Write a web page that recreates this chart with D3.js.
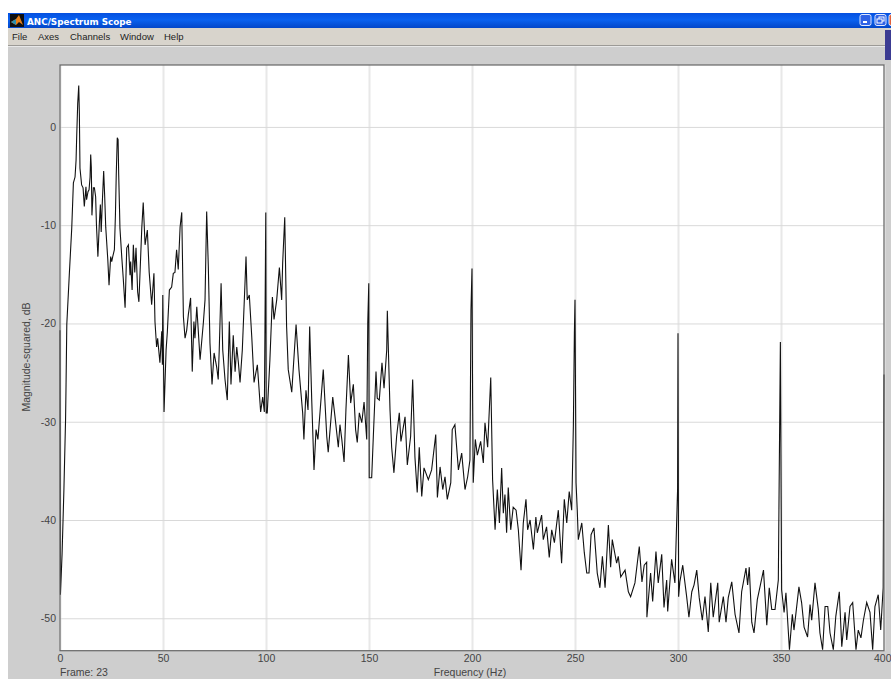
<!DOCTYPE html>
<html>
<head>
<meta charset="utf-8">
<title>ANC/Spectrum Scope</title>
<script src="https://d3js.org/d3.v7.min.js"></script>
<style>
  html, body { margin: 0; padding: 0; background: #fff; overflow: hidden; }
  svg { display: block; font-family: "Liberation Sans", Arial, sans-serif; }
</style>
</head>
<body>
<svg width="891" height="679"></svg>
<script>
// Tick labels
const freqTicks = [0, 50, 100, 150, 200, 250, 300, 350, 400];
const dbTicks = [0, -10, -20, -30, -40, -50];
const menuItems = ["File", "Axes", "Channels", "Window", "Help"];
const menuX = [12, 38, 70, 120, 164];

// Spectrum trace, frame 23
const freqHz = [
  0, 0.2, 1, 1.9, 2.7, 2.9, 3.3, 4.5, 5.7, 6.5, 7.3, 7.8, 8.1, 8.6, 9.1, 9.4, 9.7, 10.5, 11.2, 11.8,
  12.6, 12.9, 13.6, 14.1, 14.6, 14.9, 15.2, 15.5, 16.2, 16.7, 17.3, 17.7, 18.4, 19.1, 19.6, 20, 20.5, 21.2, 21.7, 22.2,
  23.2, 23.8, 24.6, 25.1, 25.6, 26.4, 26.9, 27.3, 27.8, 28.2, 28.5, 28.9, 29.1, 30, 30.7, 31.6, 32.4, 33.2, 34, 34.3,
  35, 35.6, 36.3, 36.9, 37.7, 38.3, 39.7, 40.4, 41.3, 42.4, 43.3, 44.5, 45.6, 46.1, 46.9, 47.4, 48.5, 49.4, 49.7, 49.9,
  50.5, 51.5, 52.1, 53.1, 54.2, 55, 55.8, 56.6, 57.4, 58.3, 59.1, 59.9, 60.7, 61.5, 62.3, 63.4, 64.2, 65, 65.5, 66.4,
  68, 69.6, 70.4, 71.2, 72, 72.8, 73.8, 74.8, 76.1, 76.8, 77.3, 78.2, 79, 80.1, 81.2, 82.2, 83, 84.1, 85, 85.8,
  86.6, 87.4, 88.5, 89.8, 90.3, 90.9, 91.9, 93.1, 94.2, 95.8, 97.4, 98.4, 99.2, 99.9, 100.1, 100.6, 101.9, 103.1, 103.9, 105.2,
  106.5, 107.6, 108.1, 109.1, 110, 110.8, 112.5, 114.6, 116, 117.8, 118.4, 119.4, 120.4, 121.2, 122.2, 123.3, 124.3, 125.2, 126.2, 127.8,
  129.5, 130.2, 132.4, 133.5, 135.1, 135.9, 136.8, 137.9, 138.8, 140, 141.1, 142.4, 143.5, 144.3, 145.3, 146.5, 147.6, 148.9, 149.4, 149.9,
  150.1, 151.3, 152.1, 153.4, 154, 155, 156.3, 157.3, 158.6, 158.9, 160.2, 161, 162.1, 163.4, 164.7, 165.5, 167.5, 168.6, 170.2, 171.2,
  172.3, 173.4, 174.4, 175.6, 176.7, 178.8, 180.4, 182.4, 183.2, 184.5, 185.8, 186.9, 188, 189.7, 190.4, 191.7, 193.4, 195, 196.6, 197.9,
  199, 199.5, 200, 200.3, 200.6, 201.6, 202.6, 204.2, 205.5, 206.3, 207.6, 209.1, 210, 211.2, 212.3, 213.3, 214.4, 215.2, 216, 216.8,
  217.6, 218.8, 220, 221.4, 222.5, 223.8, 224.9, 226.2, 227, 228.2, 229.8, 231, 231.7, 233.8, 234.6, 236.2, 237.5, 238.7, 240, 241.9,
  243.5, 244.8, 246, 247.2, 248.4, 249.2, 249.7, 250, 250.5, 251.1, 251.6, 253.3, 254.5, 255.7, 256.8, 257.8, 259.2, 260.8, 262.1, 263.3,
  264.6, 266.2, 267.3, 268.1, 270.2, 271, 272.2, 274.3, 275.9, 277, 279.1, 281.2, 282.5, 283.6, 284.8, 284.9, 286.7, 287.7, 289.3, 290.4,
  292.1, 293.2, 294.5, 295, 296.9, 298.5, 299.8, 300, 300.3, 300.9, 302.3, 304.2, 305.3, 306.7, 307.8, 309.1, 310.3, 311.8, 313.1, 314.7,
  315.9, 317.1, 319.3, 320, 322, 323.3, 324.4, 326.1, 327.7, 329.6, 330.9, 333, 333.8, 334.6, 335.8, 336.9, 338.5, 339.8, 341.5, 343.1,
  344.3, 345.5, 347.1, 348.7, 349.7, 350.3, 351.5, 352.4, 354.1, 354.4, 355.5, 356.3, 357.3, 358.7, 360, 361.2, 362.9, 364.1, 364.9, 366.5,
  368.1, 368.9, 370.2, 371.4, 372.7, 373.8, 375.4, 376.6, 378.3, 379.5, 381.1, 381.9, 383.5, 384.8, 386.4, 387.5, 388.8, 390, 391.6, 393.2,
  394.5, 395.6, 397.2, 398.4, 399.6, 400
];
const magDb = [
  -20.7, -47.6, -43.5, -36.9, -29.8, -26.8, -20.1, -15.1, -10.3, -5.7, -5.1, -3.4, -1, 2.4, 4.2, 1.4, -4.2, -5.9, -6.2, -8.1,
  -6.1, -7.4, -6.6, -6.4, -5.1, -2.8, -4.1, -9, -6.2, -6.2, -7.1, -10, -13.2, -9.8, -7.9, -10.7, -7.9, -4.5, -7.1, -10.2,
  -13.5, -16.1, -13.2, -13.7, -13.2, -12.5, -9, -4.9, -1.1, -1.3, -4.9, -8.4, -10.3, -13.3, -15.4, -18.4, -12.3, -12, -15.1, -13.7,
  -16.6, -12, -14.8, -12.3, -16.8, -17.8, -10.3, -7.7, -12, -10.5, -14.8, -18.1, -14.9, -19.8, -22.4, -21.5, -24, -20.8, -24.2, -17.1,
  -29, -22.7, -20.9, -16.6, -16.3, -14.9, -14.8, -12.5, -14.5, -10.2, -8.7, -19.3, -21.5, -20.7, -19.1, -17.4, -24.9, -19.8, -21.5, -18.3,
  -23.7, -19.9, -17.6, -8.6, -14.2, -22, -26.2, -23, -24.5, -25.7, -22.7, -15.9, -22.7, -25.7, -27.8, -19.8, -26.2, -21.2, -24.9, -22.4,
  -24, -26, -22.7, -15.9, -13.2, -17.6, -17.1, -21.4, -26, -24.2, -29, -27.5, -29, -8.7, -29.1, -29.1, -23.7, -17.3, -19.6, -17.6,
  -14.3, -17.6, -13.8, -9.2, -20.3, -24.7, -27, -20.1, -24.7, -29.1, -31.8, -26.8, -28.8, -20.3, -27.8, -34.9, -30.8, -31.8, -29.1, -24.7,
  -31.5, -33.1, -27.5, -29.5, -32.6, -30.3, -31.8, -34.1, -28.8, -23.2, -28.1, -26.2, -30.8, -32.1, -29.1, -30.1, -28, -31.8, -19.9, -15.9,
  -35.7, -35.7, -31.5, -24.9, -27.6, -27.8, -24, -26.6, -22.7, -18.7, -28.8, -32.6, -35.2, -31.5, -29.1, -32, -29.5, -34.4, -31.5, -25.7,
  -33.6, -37.2, -32.6, -37.6, -34.7, -35.9, -34.9, -31.3, -37.7, -34.6, -36.9, -35.6, -37.9, -36.2, -30.8, -30.3, -34.9, -33.2, -36.9, -35.6,
  -33.9, -18.6, -14.4, -27.8, -36.2, -31.8, -33.4, -32, -34.2, -30.1, -32.6, -25.5, -35.9, -41, -36.9, -40.3, -34.7, -39.3, -37.4, -41.3,
  -36.7, -41, -38.7, -39, -41, -45.1, -40.3, -37.9, -41, -40, -43, -39.7, -41.3, -39.5, -42, -40.7, -43.8, -41, -42.3, -39,
  -44.4, -37.9, -40.3, -37.1, -39, -30.5, -21, -17.6, -36.2, -39, -42, -40.3, -43.3, -45.4, -45.4, -41.5, -40.8, -45.4, -46.9, -43.7,
  -46.9, -40.5, -44.8, -42, -44.4, -43.7, -45.8, -45.1, -47.3, -47.8, -46.4, -42.7, -46.3, -44.6, -44.3, -49.9, -45.4, -48.3, -43.2, -46.4,
  -43.5, -48.9, -46.1, -49.3, -44, -46.4, -36.9, -21, -47.8, -46.3, -44.6, -47.8, -49.9, -47.3, -46.6, -45.1, -47.9, -50.2, -47.8, -51.4,
  -46.4, -49.9, -46.4, -50.4, -47.8, -50.4, -47.9, -46.3, -49.6, -51.5, -47.3, -44.9, -46.6, -44.8, -50.4, -51.5, -48.1, -46.8, -45.1, -50.7,
  -46.9, -49.1, -49.1, -46.1, -21.9, -47.1, -49.4, -47.4, -53.2, -52.4, -49.6, -51.2, -49.4, -46.8, -48.4, -50.9, -51.9, -48.6, -50.2, -46.4,
  -49.1, -51.5, -53.2, -48.8, -48.8, -51.5, -53.2, -49.8, -47.3, -52.9, -49.4, -52.2, -48.8, -48.4, -53.2, -51.2, -52, -50.2, -48.4, -49.4,
  -53.2, -48.8, -47.6, -51.2, -46.9, -25.2
];

const svg = d3.select("svg");

// Window chrome
svg.append("rect").attr("x", 8).attr("y", 13).attr("width", 883).attr("height", 666).attr("fill", "#cecece");

const defs = svg.append("defs");
const titleGrad = defs.append("linearGradient").attr("id", "titleGrad")
    .attr("x1", 0).attr("y1", 0).attr("x2", 0).attr("y2", 1);
titleGrad.append("stop").attr("offset", "0%").attr("stop-color", "#0550e0");
titleGrad.append("stop").attr("offset", "45%").attr("stop-color", "#0a62f0");
titleGrad.append("stop").attr("offset", "100%").attr("stop-color", "#0346c8");

svg.append("rect").attr("x", 8).attr("y", 13).attr("width", 883).attr("height", 15).attr("fill", "url(#titleGrad)");
svg.append("rect").attr("x", 8).attr("y", 28).attr("width", 883).attr("height", 17).attr("fill", "#d8d4cc");
svg.append("rect").attr("x", 8).attr("y", 45).attr("width", 883).attr("height", 1).attr("fill", "#9c9a96");
svg.append("rect").attr("x", 8).attr("y", 46).attr("width", 883).attr("height", 1).attr("fill", "#e8e8e8");
svg.append("rect").attr("x", 885).attr("y", 30).attr("width", 6).attr("height", 30).attr("fill", "#3b3b92");

// Title bar icon
svg.append("rect").attr("x", 10).attr("y", 14).attr("width", 14).attr("height", 13).attr("fill", "#101010");
svg.append("path").attr("d", "M11,22 L16,19 L19,15 L23,25 L19,22 L16,25 Z").attr("fill", "#e8801a");
svg.append("path").attr("d", "M11,22 L16,19 L16,25 Z").attr("fill", "#2a8fb0");

svg.append("text").attr("x", 27).attr("y", 24.5)
    .attr("fill", "#fff").attr("font-size", "8.8px").attr("font-weight", "bold")
    .style("font-family", "'DejaVu Sans', sans-serif")
    .text("ANC/Spectrum Scope");

// Minimize / restore / close buttons
[[860, "#2f62e6"], [875, "#2f62e6"], [889, "#e0603a"]].forEach(b => {
    svg.append("rect").attr("x", b[0]).attr("y", 14.5).attr("width", 11).attr("height", 11).attr("rx", 2)
        .attr("fill", b[1]).attr("stroke", "#dfe8ff").attr("stroke-width", 1);
});
svg.append("rect").attr("x", 863).attr("y", 21).attr("width", 4).attr("height", 2).attr("fill", "#fff");
svg.append("rect").attr("x", 879).attr("y", 17).attr("width", 5).attr("height", 4).attr("fill", "none").attr("stroke", "#fff");
svg.append("rect").attr("x", 877).attr("y", 19).attr("width", 5).attr("height", 4).attr("fill", "#2f62e6").attr("stroke", "#fff");

// Menu bar
svg.selectAll(".menu")
    .data(menuItems)
    .enter().append("text")
    .attr("class", "menu")
    .attr("x", (d, i) => menuX[i])
    .attr("y", 40)
    .attr("font-size", "9.5px")
    .attr("fill", "#222")
    .text(d => d);

// Scales
const xScale = d3.scaleLinear().domain([0, 400]).range([60, 884]);
const yScale = d3.scaleLinear().domain([-53.3, 6.3]).range([650.7, 65]);

svg.append("rect").attr("x", 60).attr("y", 65).attr("width", 824).attr("height", 585.7).attr("fill", "#fff");

// Grid
svg.append("g")
    .attr("transform", "translate(0,65)")
    .call(d3.axisBottom(xScale).tickValues(freqTicks).tickSize(585.7).tickFormat(""))
    .call(g => g.select(".domain").remove())
    .selectAll("line")
    .attr("stroke", "#e8e8e8")
    .attr("stroke-width", 2);

svg.append("g")
    .attr("transform", "translate(60,0)")
    .call(d3.axisRight(yScale).tickValues(dbTicks).tickSize(824).tickFormat(""))
    .call(g => g.select(".domain").remove())
    .selectAll("line")
    .attr("stroke", "#d9d9d9")
    .attr("stroke-width", 1);

// Spectrum line
const line = d3.line()
    .x((d, i) => xScale(freqHz[i]))
    .y(d => yScale(d));

svg.append("clipPath").attr("id", "plotClip")
    .append("rect").attr("x", 59).attr("y", 65).attr("width", 826).attr("height", 585.7);

svg.append("path")
    .datum(magDb)
    .attr("clip-path", "url(#plotClip)")
    .attr("fill", "none")
    .attr("stroke", "#111")
    .attr("stroke-width", 1.1)
    .attr("d", line);

// Plot frame
svg.append("rect").attr("x", 60).attr("y", 65).attr("width", 824).attr("height", 585.7)
    .attr("fill", "none").attr("stroke", "#666").attr("stroke-width", 1.2);

// Axes, plain hyphen for negatives like the scope does
const xAxis = svg.append("g")
    .attr("transform", "translate(0,650.7)")
    .call(d3.axisBottom(xScale).tickValues(freqTicks).tickSize(0).tickPadding(4).tickFormat(d => String(d)));
xAxis.select(".domain").remove();
xAxis.selectAll("text").attr("font-size", "10.5px").attr("fill", "#444")
    .style("font-family", "'Liberation Sans', Arial, sans-serif");
// 400 sits on the window edge, keep it inside
xAxis.selectAll(".tick text").filter(d => d === 400).attr("text-anchor", "end").attr("x", 7);

const yAxis = svg.append("g")
    .attr("transform", "translate(60,0)")
    .call(d3.axisLeft(yScale).tickValues(dbTicks).tickSize(0).tickPadding(4).tickFormat(d => String(d)));
yAxis.select(".domain").remove();
yAxis.selectAll("text").attr("font-size", "10.5px").attr("fill", "#444")
    .style("font-family", "'Liberation Sans', Arial, sans-serif");

// Axis labels
svg.append("text")
    .attr("x", 470)
    .attr("y", 676)
    .attr("text-anchor", "middle")
    .attr("font-size", "10.5px")
    .attr("fill", "#444")
    .text("Frequency (Hz)");

svg.append("text")
    .attr("x", 60)
    .attr("y", 676)
    .attr("font-size", "10.5px")
    .attr("fill", "#444")
    .text("Frame: 23");

svg.append("text")
    .attr("transform", "rotate(-90)")
    .attr("x", -357)
    .attr("y", 30)
    .attr("text-anchor", "middle")
    .attr("font-size", "10.5px")
    .attr("fill", "#444")
    .text("Magnitude-squared, dB");
</script>
</body>
</html>
